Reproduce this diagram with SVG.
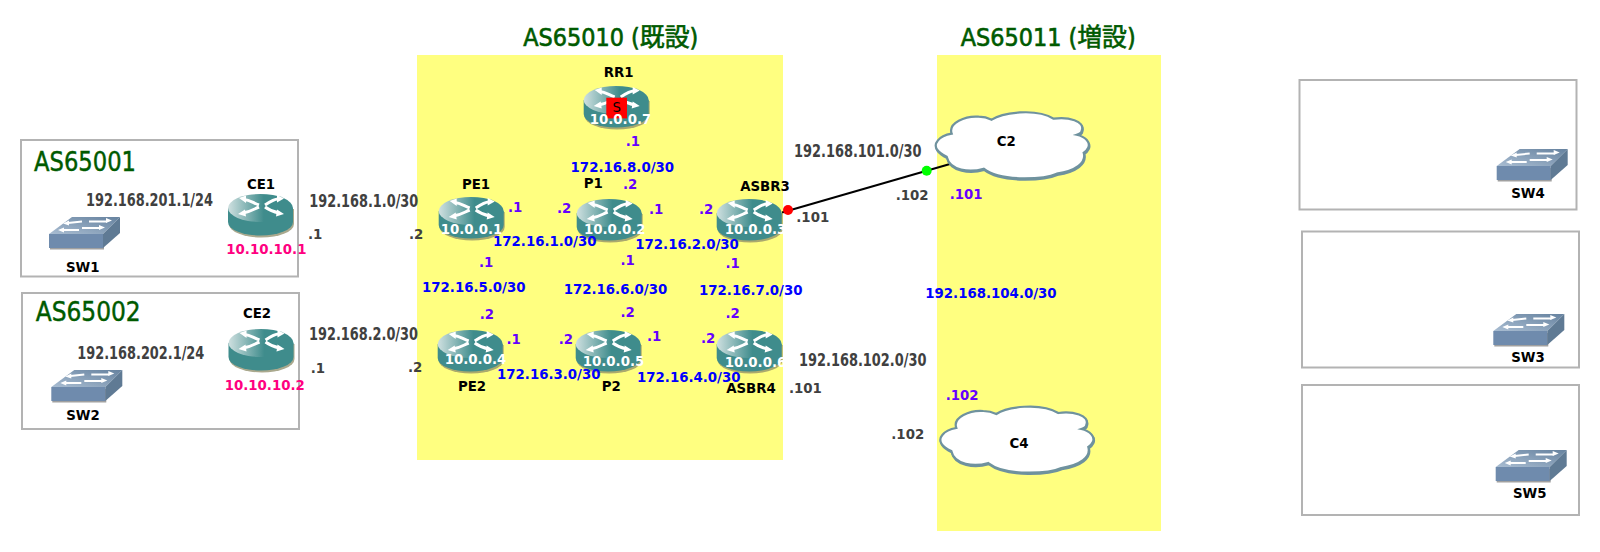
<svg xmlns="http://www.w3.org/2000/svg" xmlns:xlink="http://www.w3.org/1999/xlink" width="1600" height="552" viewBox="0 0 1600 552">
<style>
text{font-family:"DejaVu Sans","Noto Sans CJK JP",sans-serif;font-size:13.330px;font-weight:700}
.box{fill:#fff;stroke:#b3b3b3;stroke-width:2}
.zone{fill:#ffff80}
.name{fill:#000;text-anchor:middle}
.net{fill:#0000ff}
.hop{fill:#6600ff}
.ext{fill:#404040}
.ip{fill:#fff}
.loop{fill:#ff0080}
.wan{fill:#404040;font-size:17px;font-stretch:condensed}
.as{fill:#005a00;font-size:26px;font-weight:400;font-stretch:condensed;stroke:#005a00;stroke-width:.4}
.ttl{fill:#005a00;font-size:25px;font-weight:400;font-stretch:condensed;stroke:#005a00;stroke-width:.6}
.link{stroke:#000;stroke-width:2;fill:none}
.arw{stroke:#fff;stroke-width:3;fill:none}
.arws{stroke:#fff;stroke-width:2;fill:none}
.cloud{fill:#fff;stroke:#6f929e;stroke-width:2.200}
</style>
<defs>
<linearGradient id="rt" x1="0" y1="0" x2="1" y2="0"><stop offset="0" stop-color="#cfe0e0"/><stop offset=".55" stop-color="#3f8c8c"/><stop offset="1" stop-color="#3f8c8c"/></linearGradient>
<linearGradient id="st" x1="0" y1="1" x2="1" y2="0"><stop offset="0" stop-color="#a9bdd2"/><stop offset="1" stop-color="#66829f"/></linearGradient>
<g id="router">
<path d="M1 15V30A32.500 13.500 0 0 0 66 30V15Z" fill="#8d8c68" opacity=".75"/>
<path d="M0 14V28A32.500 13.500 0 0 0 65 28V14Z" fill="#3f8c8c"/>
<ellipse cx="32.500" cy="14" rx="32.500" ry="14" fill="url(#rt)"/>
<path class="arw" d="M16 5.500C22 6 25 9 31 11M37 11C43 7 46 5 50 5M15 19C22 18 26 15 31 13M37 13C41 16 46 18 51 19"/>
<path fill="#fff" d="M11 4 18 1.500 18 9ZM56 4.500 49 1 49 8.500ZM10 20 17 15.500 18 22.500ZM56 20 49 15.500 48 22.500Z"/>
</g>
<g id="switch">
<path d="M1 19H55V32.500H1Z" fill="#a0a0a0"/>
<path d="M0 17 23 0H71L54 17Z" fill="url(#st)"/>
<path d="M0 17H54V31H0Z" fill="#6f8bad"/>
<path d="M54 17 71 0V16L54 31Z" fill="#5f7a94"/>
<path class="arws" d="M19 6 33 4.500M40 4.500H58M14 13H30M33 11H51"/>
<path fill="#fff" d="M14 6.500 20 3.500 20 8.500ZM63 3.500 57 1 57 6ZM9 13 15 10.500 15 15.500ZM56 10.500 50 8 50 13Z"/>
</g>
<path id="cl" d="M16 23C12 12 30 5 43 6C48 6 52 7 56 9C66 2 100 -3 118 8C132 6 150 10 146 20C146 22 144 23 141 24C150 26 155 32 152.500 37C151.500 39 150 41 148 42C151 52 140 60 121 63C110 68 66 72 48 58C34 62 14 60 11 46C2 42 -3 36 2 30C5 26 10 24 16 23Z"/>
</defs>
<rect class="zone" x="417" y="55" width="366" height="405"/>
<rect class="zone" x="937" y="55" width="224" height="476"/>
<rect class="box" x="21" y="140" width="277" height="136.500"/>
<rect class="box" x="22" y="293" width="277" height="136"/>
<rect class="box" x="1299.500" y="80" width="277" height="129.500"/>
<rect class="box" x="1302" y="231.500" width="277" height="136"/>
<rect class="box" x="1302" y="385" width="277" height="130"/>
<text class="ttl" x="523.300" y="46" textLength="175" lengthAdjust="spacingAndGlyphs">AS65010 (既設)</text>
<text class="ttl" x="960.700" y="46" textLength="175" lengthAdjust="spacingAndGlyphs">AS65011 (増設)</text>
<text class="as" x="34" y="170.700" textLength="102" lengthAdjust="spacingAndGlyphs">AS65001</text>
<text class="as" x="35.700" y="320.700" textLength="105" lengthAdjust="spacingAndGlyphs">AS65002</text>
<g id="connectors">
<line class="link" x1="782" y1="212.500" x2="950" y2="164"/>
<circle cx="788" cy="210" r="5" fill="#f00"/>
<circle cx="926.700" cy="170.700" r="5" fill="#0f0"/>
</g>
<g id="CE1"><use href="#router" x="228" y="194"/><text class="name" x="261" y="189.300">CE1</text><text class="loop" x="226.300" y="254">10.10.10.1</text></g>
<g id="CE2"><use href="#router" x="228.500" y="329"/><text class="name" x="257" y="318">CE2</text><text class="loop" x="224.700" y="390.300">10.10.10.2</text></g>
<g id="RR1"><use href="#router" x="583.700" y="86"/><rect x="606.300" y="97.700" width="20.700" height="20.700" fill="#f00"/><text x="616.700" y="112" text-anchor="middle" style="font-weight:400">S</text><text class="ip" x="589.700" y="124">10.0.0.7</text><text class="name" x="618.700" y="77.300">RR1</text></g>
<g id="PE1"><use href="#router" x="438.700" y="197"/><text class="ip" x="440.700" y="234.300">10.0.0.1</text><text class="name" x="476" y="189">PE1</text></g>
<g id="P1"><use href="#router" x="576.700" y="199"/><text class="ip" x="584" y="234.300">10.0.0.2</text><text class="name" x="593.300" y="188">P1</text></g>
<g id="ASBR3"><use href="#router" x="716.700" y="199"/><text class="ip" x="724.700" y="234.300">10.0.0.3</text><text class="name" x="765" y="190.700">ASBR3</text></g>
<g id="PE2"><use href="#router" x="437.700" y="330"/><text class="ip" x="444.700" y="364">10.0.0.4</text><text class="name" x="472" y="391">PE2</text></g>
<g id="P2"><use href="#router" x="575.700" y="330"/><text class="ip" x="582.700" y="366">10.0.0.5</text><text class="name" x="611.300" y="391">P2</text></g>
<g id="ASBR4"><use href="#router" x="716.700" y="330"/><text class="ip" x="724.700" y="367">10.0.0.6</text><text class="name" x="751" y="393.300">ASBR4</text></g>
<g id="SW1"><use href="#switch" x="49" y="217"/><text class="name" x="82.700" y="272">SW1</text></g>
<g id="SW2"><use href="#switch" x="51.300" y="370"/><text class="name" x="83" y="420">SW2</text></g>
<g id="SW4"><use href="#switch" x="1496.700" y="149"/><text class="name" x="1528" y="197.700">SW4</text></g>
<g id="SW3"><use href="#switch" x="1493.300" y="314"/><text class="name" x="1528" y="361.700">SW3</text></g>
<g id="SW5"><use href="#switch" x="1495.700" y="450"/><text class="name" x="1529.700" y="498.300">SW5</text></g>
<g id="C2"><use href="#cl" x="936.200" y="112" fill="#6f929e" stroke="#6f929e" stroke-width="2.200"/><use href="#cl" class="cloud" x="935.700" y="110.700"/><text class="name" x="1006.300" y="146">C2</text></g>
<g id="C4"><use href="#cl" x="940.800" y="406.200" fill="#6f929e" stroke="#6f929e" stroke-width="2.200"/><use href="#cl" class="cloud" x="940.300" y="405"/><text class="name" x="1019" y="447.700">C4</text></g>
<g id="labels">
<text class="wan" x="86" y="206" textLength="127" lengthAdjust="spacingAndGlyphs">192.168.201.1/24</text>
<text class="wan" x="77.300" y="358.700" textLength="127" lengthAdjust="spacingAndGlyphs">192.168.202.1/24</text>
<text class="wan" x="309.300" y="207.300" textLength="109" lengthAdjust="spacingAndGlyphs">192.168.1.0/30</text>
<text class="wan" x="309" y="340" textLength="109" lengthAdjust="spacingAndGlyphs">192.168.2.0/30</text>
<text class="wan" x="794" y="156.700" textLength="127.500" lengthAdjust="spacingAndGlyphs">192.168.101.0/30</text>
<text class="wan" x="799" y="366" textLength="127.500" lengthAdjust="spacingAndGlyphs">192.168.102.0/30</text>
<text class="ext" x="308" y="239">.1</text>
<text class="ext" x="409" y="239">.2</text>
<text class="ext" x="310.700" y="373">.1</text>
<text class="ext" x="408" y="371.700">.2</text>
<text class="ext" x="796.300" y="221.700">.101</text>
<text class="ext" x="895.700" y="200">.102</text>
<text class="ext" x="789" y="393">.101</text>
<text class="ext" x="891.300" y="439">.102</text>
<text class="net" x="570.600" y="172">172.16.8.0/30</text>
<text class="net" x="493" y="246">172.16.1.0/30</text>
<text class="net" x="635.300" y="249">172.16.2.0/30</text>
<text class="net" x="422" y="292.300">172.16.5.0/30</text>
<text class="net" x="563.700" y="294.300">172.16.6.0/30</text>
<text class="net" x="699" y="295">172.16.7.0/30</text>
<text class="net" x="497" y="379">172.16.3.0/30</text>
<text class="net" x="637" y="381.700">172.16.4.0/30</text>
<text class="net" x="925.300" y="298">192.168.104.0/30</text>
<text class="hop" x="625.700" y="146">.1</text>
<text class="hop" x="623" y="189">.2</text>
<text class="hop" x="508" y="212">.1</text>
<text class="hop" x="557" y="213.300">.2</text>
<text class="hop" x="649" y="214.300">.1</text>
<text class="hop" x="699" y="214.300">.2</text>
<text class="hop" x="479" y="267">.1</text>
<text class="hop" x="620.400" y="265">.1</text>
<text class="hop" x="725.400" y="267.700">.1</text>
<text class="hop" x="479.700" y="319.300">.2</text>
<text class="hop" x="620.400" y="317.300">.2</text>
<text class="hop" x="725.400" y="318.300">.2</text>
<text class="hop" x="506.400" y="344">.1</text>
<text class="hop" x="558.700" y="344">.2</text>
<text class="hop" x="647" y="341.300">.1</text>
<text class="hop" x="701" y="343">.2</text>
<text class="hop" x="949.700" y="199">.101</text>
<text class="hop" x="945.700" y="400">.102</text>
</g>
</svg>
